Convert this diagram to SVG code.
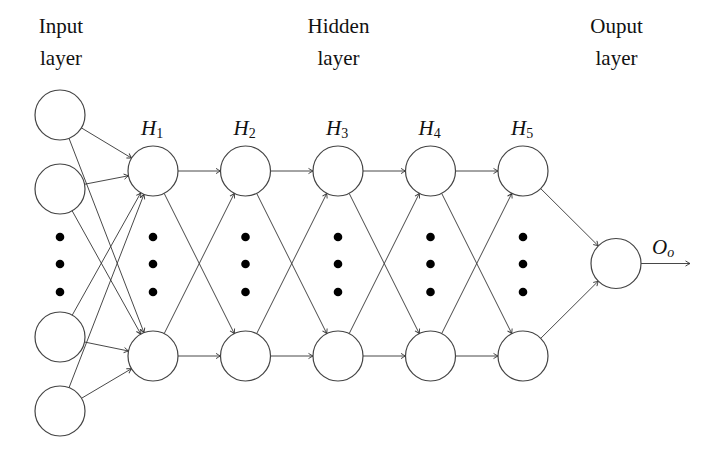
<svg xmlns="http://www.w3.org/2000/svg" width="712" height="450" viewBox="0 0 712 450">
<style>
.node{fill:#fff;stroke:#444;stroke-width:1.2}
.edge{fill:none;stroke:#333;stroke-width:0.9;marker-end:url(#tip)}
.dot{fill:#000}
.lbl{font-family:'Liberation Serif','Times New Roman','DejaVu Serif',serif;font-size:21px;fill:#111;text-anchor:middle}
.math{font-family:'Liberation Serif','Times New Roman','DejaVu Serif',serif;font-style:italic;font-size:21px;fill:#111}
.sub{font-size:14px;font-style:normal}
.subi{font-size:14px}
</style>
<defs>
<marker id="tip" markerUnits="userSpaceOnUse" markerWidth="10" markerHeight="10" refX="0" refY="0" viewBox="-6 -5 8 10" orient="auto" overflow="visible">
<path d="M-4.5,-2.6 Q-1.6,-0.8 0,0 Q-1.6,0.8 -4.5,2.6" fill="none" stroke="#333" stroke-width="0.9"/>
</marker>
</defs>
<rect width="712" height="450" fill="#fff"/>
<g id="titles">
<text class="lbl" x="61" y="33" font-family="Liberation Serif, serif">Input</text>
<text class="lbl" x="61" y="65" font-family="Liberation Serif, serif">layer</text>
<text class="lbl" x="338.5" y="33" font-family="Liberation Serif, serif">Hidden</text>
<text class="lbl" x="338.5" y="65" font-family="Liberation Serif, serif">layer</text>
<text class="lbl" x="616.5" y="33" font-family="Liberation Serif, serif">Ouput</text>
<text class="lbl" x="616.5" y="65" font-family="Liberation Serif, serif">layer</text>
</g>
<g id="connectors">
<line class="edge" x1="81.42" y1="127.90" x2="131.58" y2="158.10"/>
<line class="edge" x1="69.00" y1="138.32" x2="144.00" y2="332.68"/>
<line class="edge" x1="84.54" y1="184.25" x2="128.46" y2="175.75"/>
<line class="edge" x1="72.16" y1="210.84" x2="140.84" y2="334.16"/>
<line class="edge" x1="72.22" y1="315.19" x2="140.78" y2="192.81"/>
<line class="edge" x1="84.49" y1="342.00" x2="128.51" y2="351.00"/>
<line class="edge" x1="69.03" y1="387.69" x2="143.97" y2="194.31"/>
<line class="edge" x1="81.52" y1="398.27" x2="131.48" y2="368.73"/>
<line class="edge" x1="178" y1="171" x2="220.5" y2="171"/>
<line class="edge" x1="178" y1="356" x2="220.5" y2="356"/>
<line class="edge" x1="164.18" y1="193.36" x2="234.32" y2="333.64"/>
<line class="edge" x1="164.18" y1="333.64" x2="234.32" y2="193.36"/>
<line class="edge" x1="270.5" y1="171" x2="313" y2="171"/>
<line class="edge" x1="270.5" y1="356" x2="313" y2="356"/>
<line class="edge" x1="256.68" y1="193.36" x2="326.82" y2="333.64"/>
<line class="edge" x1="256.68" y1="333.64" x2="326.82" y2="193.36"/>
<line class="edge" x1="363" y1="171" x2="405.5" y2="171"/>
<line class="edge" x1="363" y1="356" x2="405.5" y2="356"/>
<line class="edge" x1="349.18" y1="193.36" x2="419.32" y2="333.64"/>
<line class="edge" x1="349.18" y1="333.64" x2="419.32" y2="193.36"/>
<line class="edge" x1="455.5" y1="171" x2="498" y2="171"/>
<line class="edge" x1="455.5" y1="356" x2="498" y2="356"/>
<line class="edge" x1="441.68" y1="193.36" x2="511.82" y2="333.64"/>
<line class="edge" x1="441.68" y1="333.64" x2="511.82" y2="193.36"/>
<line class="edge" x1="540.73" y1="188.63" x2="598.27" y2="245.87"/>
<line class="edge" x1="540.73" y1="338.37" x2="598.27" y2="281.13"/>
<line class="edge" x1="641" y1="263.5" x2="690" y2="263.5"/>
</g>
<g id="input-layer">
<circle class="node" cx="60" cy="115" r="25"/>
<circle class="node" cx="60" cy="189" r="25"/>
<circle class="node" cx="60" cy="337" r="25"/>
<circle class="node" cx="60" cy="411" r="25"/>
</g>
<g id="H1">
<text class="math" x="141" y="135">H<tspan class="sub" dy="3">1</tspan></text>
<circle class="node" cx="153" cy="171" r="25"/>
<circle class="node" cx="153" cy="356" r="25"/>
</g>
<g id="H2">
<text class="math" x="233.5" y="135">H<tspan class="sub" dy="3">2</tspan></text>
<circle class="node" cx="245.5" cy="171" r="25"/>
<circle class="node" cx="245.5" cy="356" r="25"/>
</g>
<g id="H3">
<text class="math" x="326" y="135">H<tspan class="sub" dy="3">3</tspan></text>
<circle class="node" cx="338" cy="171" r="25"/>
<circle class="node" cx="338" cy="356" r="25"/>
</g>
<g id="H4">
<text class="math" x="418.5" y="135">H<tspan class="sub" dy="3">4</tspan></text>
<circle class="node" cx="430.5" cy="171" r="25"/>
<circle class="node" cx="430.5" cy="356" r="25"/>
</g>
<g id="H5">
<text class="math" x="511" y="135">H<tspan class="sub" dy="3">5</tspan></text>
<circle class="node" cx="523" cy="171" r="25"/>
<circle class="node" cx="523" cy="356" r="25"/>
</g>
<g id="output">
<circle class="node" cx="616" cy="263.5" r="25"/>
<text class="math" x="652" y="254">O<tspan class="subi" dy="3">o</tspan></text>
</g>
<g id="dots">
<circle class="dot" cx="60" cy="237" r="4.3"/><circle class="dot" cx="60" cy="264" r="4.3"/><circle class="dot" cx="60" cy="292" r="4.3"/>
<circle class="dot" cx="153" cy="237" r="4.3"/><circle class="dot" cx="153" cy="264" r="4.3"/><circle class="dot" cx="153" cy="292" r="4.3"/>
<circle class="dot" cx="245.5" cy="237" r="4.3"/><circle class="dot" cx="245.5" cy="264" r="4.3"/><circle class="dot" cx="245.5" cy="292" r="4.3"/>
<circle class="dot" cx="338" cy="237" r="4.3"/><circle class="dot" cx="338" cy="264" r="4.3"/><circle class="dot" cx="338" cy="292" r="4.3"/>
<circle class="dot" cx="430.5" cy="237" r="4.3"/><circle class="dot" cx="430.5" cy="264" r="4.3"/><circle class="dot" cx="430.5" cy="292" r="4.3"/>
<circle class="dot" cx="523" cy="237" r="4.3"/><circle class="dot" cx="523" cy="264" r="4.3"/><circle class="dot" cx="523" cy="292" r="4.3"/>
</g>
</svg>
